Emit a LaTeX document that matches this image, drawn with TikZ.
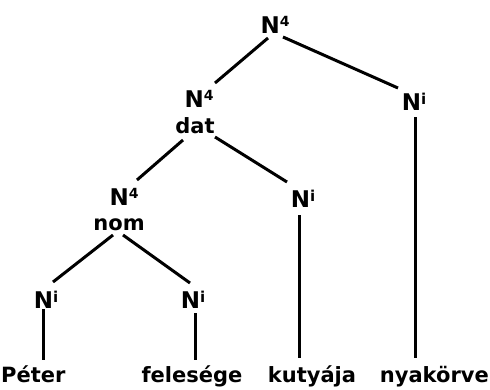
\documentclass[tikz,border=0pt]{standalone}
\usepackage{fontspec}
\setmainfont{DejaVu Sans}
\newcommand{\supf}[1]{\raisebox{6.5pt}{\fontsize{14}{14}\selectfont #1}}
\newcommand{\supi}[1]{\raisebox{5.5pt}{\fontsize{15}{15}\selectfont #1}}
\begin{document}
\begin{tikzpicture}[x=1pt,y=-1pt,
  lbl/.style={anchor=base,inner sep=0pt,font=\fontsize{23}{23}\selectfont\bfseries},
  wrd/.style={anchor=base,inner sep=0pt,font=\fontsize{21}{21}\selectfont\bfseries},
  br/.style={line width=3pt}]
\useasboundingbox (0,0) rectangle (490,389);
% labels
\node[lbl] (top) at (275,33) {N\supf{4}};
\node[lbl] (d1) at (199,107) {N\supf{4}};
\node[wrd] (d2) at (195,133) {dat};
\node[lbl] (rt) at (414,110) {N\supi{i}};
\node[lbl] (n1) at (124,205) {N\supf{4}};
\node[wrd] (n2) at (119,230) {nom};
\node[lbl] (mid) at (303,207) {N\supi{i}};
\node[lbl] (l1) at (46,308) {N\supi{i}};
\node[lbl] (l2) at (193,308) {N\supi{i}};
\node[wrd,anchor=base west] (w1) at (1,382) {Péter};
\node[wrd] (w2) at (192,382) {felesége};
\node[wrd] (w3) at (312,382) {kutyája};
\node[wrd,anchor=base east] (w4) at (489,382) {nyakörve};
% branches
\draw[br] ([shift={(-7,5)}]top.base) -- ([shift={(16,-24)}]d1.base);
\draw[br] ([shift={(8,4)}]top.base) -- ([shift={(-16,-22)}]rt.base);
\draw[br] ([shift={(-12,7)}]d2.base) -- ([shift={(13,-25)}]n1.base);
\draw[br] ([shift={(20,4)}]d2.base) -- ([shift={(-16,-25)}]mid.base);
\draw[br] ([shift={(-6,5)}]n2.base) -- ([shift={(7,-26)}]l1.base);
\draw[br] ([shift={(4,5)}]n2.base) -- ([shift={(-3,-25)}]l2.base);
\draw[br] ([shift={(-3,1)}]l1.base) -- ([shift={(42,-22)}]w1.base west);
\draw[br] ([shift={(2,5)}]l2.base) -- ([shift={(3,-22)}]w2.base);
\draw[br] ([shift={(-4,8)}]mid.base) -- ([shift={(-13,-24)}]w3.base);
\draw[br] ([shift={(1,7)}]rt.base) -- ([shift={(-74,-24)}]w4.base east);
\end{tikzpicture}
\end{document}
